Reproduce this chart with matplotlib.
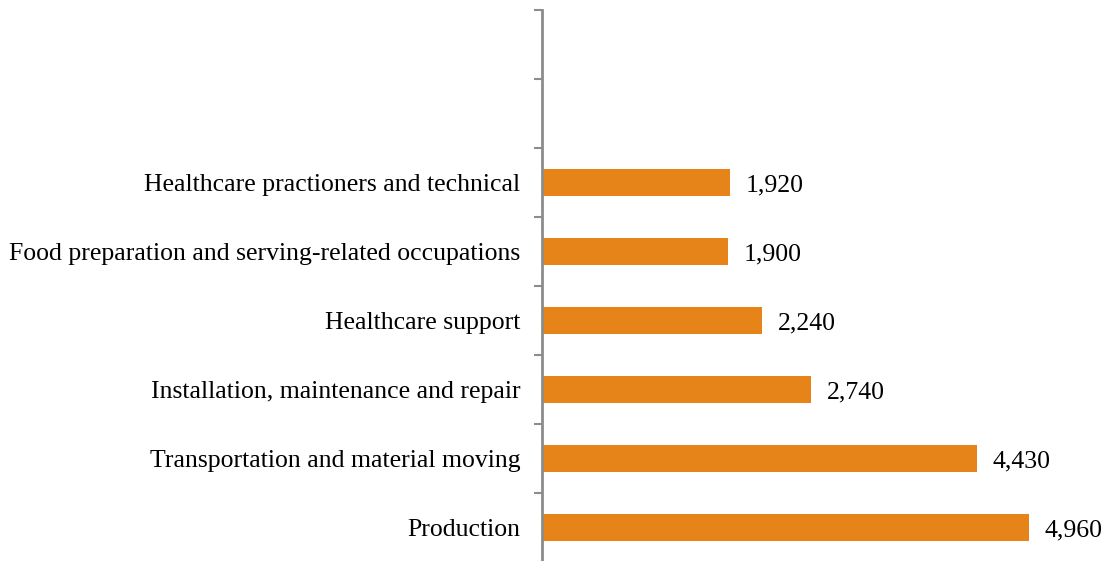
import matplotlib
matplotlib.use("Agg")
import matplotlib.pyplot as plt
from matplotlib.ticker import FixedLocator

categories = [
    "Production",
    "Transportation and material moving",
    "Installation, maintenance and repair",
    "Healthcare support",
    "Food preparation and serving-related occupations",
    "Healthcare practioners and technical",
    "",
    "",
]
values = [4960, 4430, 2740, 2240, 1900, 1920]
value_labels = ["4,960", "4,430", "2,740", "2,240", "1,900", "1,920"]

plt.rcParams["font.family"] = ["Liberation Serif", "DejaVu Serif"]

fig = plt.figure(figsize=(11.11, 5.61), dpi=100)
ax = fig.add_axes([542 / 1111, -1 / 561, 1 - 542 / 1111, 552 / 561])

ypos = list(range(len(values)))
ax.barh(ypos, values, height=0.4, color="#E6841A", zorder=2)
for y, v, lab in zip(ypos, values, value_labels):
    ax.text(v + 160, y, lab, va="center_baseline", ha="left", fontsize=18.5, color="black")

ax.set_ylim(-0.5, len(categories) - 0.5)
ax.set_xlim(0, 5800)

ax.set_yticks(range(len(categories)))
ax.set_yticklabels(categories, fontsize=18.5, va="center_baseline")
ax.tick_params(axis="y", which="major", length=0, pad=15.5)
ax.yaxis.set_minor_locator(FixedLocator([i - 0.5 for i in range(len(categories) + 1)]))
ax.tick_params(axis="y", which="minor", length=6, width=1.5, color="#8C8C8C", direction="out")

ax.set_xticks([])
for s in ["top", "right", "bottom"]:
    ax.spines[s].set_visible(False)
ax.spines["left"].set_color("#8C8C8C")
ax.spines["left"].set_linewidth(2)

fig.savefig("out.png", dpi=100)
